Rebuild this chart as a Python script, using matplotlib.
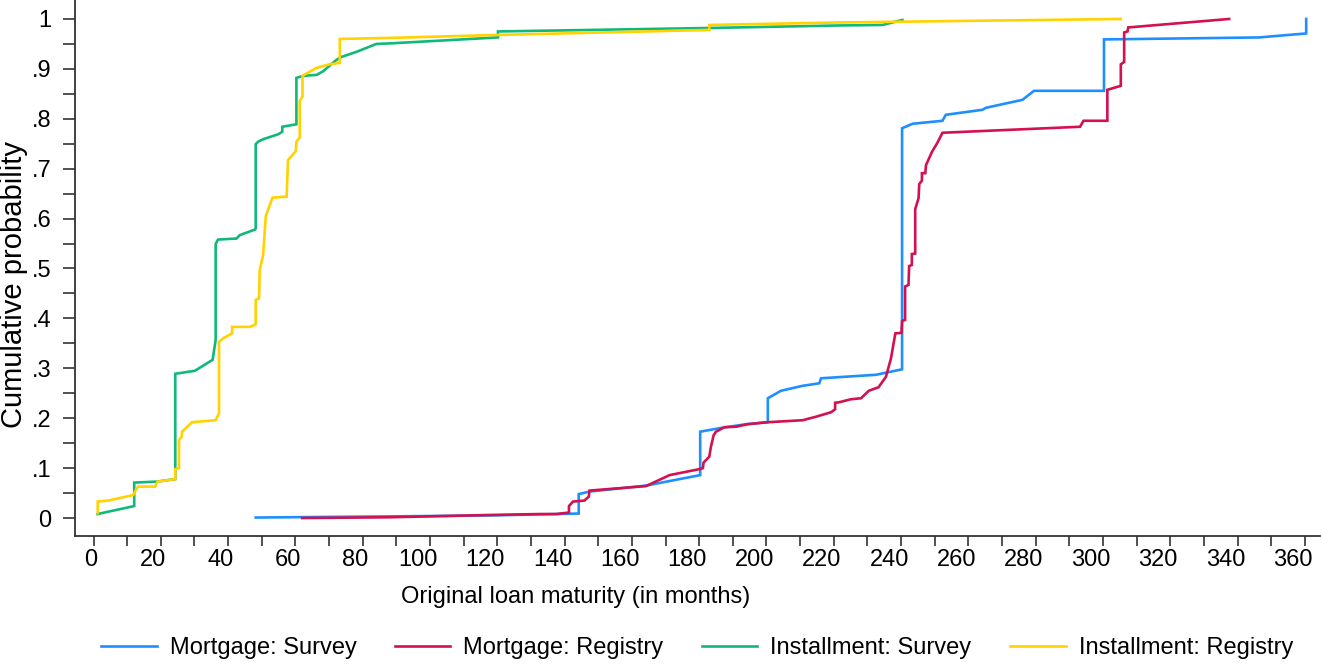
import matplotlib
matplotlib.use("Agg")
import matplotlib.pyplot as plt
from matplotlib.transforms import ScaledTranslation

# ---------------- data ----------------
mort_survey_x = [48.2, 116.7, 137.5, 144.2, 144.2, 147.4, 164.2, 180.3, 180.3, 186.0, 193.9, 200.4,
                 200.4, 204.3, 210.8, 215.7, 216.2, 232.5, 240.3, 240.3, 243.4, 252.3, 253.3,
                 264.2, 265.2, 276.1, 279.5, 300.3, 300.3, 346.4, 360.4, 360.4]
mort_survey_y = [0.001, 0.005, 0.008, 0.009, 0.048, 0.053, 0.065, 0.086, 0.173, 0.180, 0.188, 0.192,
                 0.240, 0.255, 0.265, 0.270, 0.280, 0.287, 0.298, 0.781, 0.790, 0.796, 0.808,
                 0.818, 0.822, 0.838, 0.856, 0.856, 0.959, 0.963, 0.971, 1.0]

mort_registry_x = [62.0, 88.0, 116.7, 132.6, 137.5, 141.3, 141.3, 142.5, 145.9, 147.2, 147.4, 164.2,
                   171.2, 180.1, 181.1, 181.3, 183.0, 183.5, 184.3, 185.0, 187.5, 191.0, 194.4,
                   200.4, 210.8, 214.7, 219.2, 220.4, 220.4, 221.6, 225.1, 228.1, 230.4, 233.3,
                   235.5, 237.0, 238.3, 240.1, 240.3, 241.2, 241.2, 242.2, 242.4, 243.2, 243.2,
                   244.2, 244.2, 245.2, 245.4, 246.2, 246.2, 247.2, 247.4, 249.2, 250.8, 252.3,
                   293.2, 294.2, 301.3, 301.3, 305.3, 305.3, 306.3, 306.3, 307.3, 307.5, 337.5]
mort_registry_y = [0.000, 0.0015, 0.006, 0.008, 0.008, 0.011, 0.024, 0.033, 0.035, 0.043, 0.055, 0.064,
                   0.086, 0.098, 0.100, 0.111, 0.123, 0.143, 0.166, 0.173, 0.182, 0.183, 0.188,
                   0.192, 0.196, 0.203, 0.212, 0.218, 0.231, 0.232, 0.238, 0.240, 0.255, 0.262,
                   0.283, 0.320, 0.370, 0.371, 0.395, 0.397, 0.464, 0.467, 0.505, 0.507, 0.529,
                   0.530, 0.619, 0.641, 0.669, 0.676, 0.691, 0.691, 0.707, 0.734, 0.752, 0.772,
                   0.784, 0.796, 0.796, 0.858, 0.866, 0.909, 0.914, 0.973, 0.975, 0.983, 1.0]

inst_survey_x = [1.2, 12.1, 12.1, 18.8, 24.3, 24.3, 30.1, 35.4, 36.3, 36.3, 37.0, 42.5, 43.5, 48.0,
                 48.2, 48.2, 48.9, 50.4, 54.9, 56.1, 56.1, 60.3, 60.3, 62.3, 66.3, 68.2, 72.2,
                 73.7, 78.1, 84.1, 88.0, 120.2, 120.2, 183.6, 221.7, 234.5, 240.4]
inst_survey_y = [0.008, 0.024, 0.071, 0.073, 0.078, 0.289, 0.295, 0.317, 0.357, 0.549, 0.558, 0.560,
                 0.567, 0.578, 0.580, 0.749, 0.754, 0.759, 0.769, 0.774, 0.784, 0.789, 0.882,
                 0.886, 0.888, 0.895, 0.918, 0.924, 0.934, 0.950, 0.951, 0.963, 0.975, 0.982,
                 0.987, 0.988, 0.998]

inst_registry_x = [1.25, 1.25, 4.4, 11.8, 12.8, 13.3, 18.3, 19.0, 24.3, 24.3, 25.4, 25.4, 26.2, 26.3,
                   29.3, 36.3, 37.3, 37.3, 38.5, 41.2, 41.2, 46.5, 48.2, 48.2, 49.2, 49.4, 50.4,
                   51.2, 53.2, 57.4, 57.8, 58.3, 60.1, 60.3, 61.3, 61.3, 62.1, 62.1, 66.3, 70.0,
                   73.2, 73.2, 88.0, 120.2, 183.0, 183.0, 221.7, 305.3]
inst_registry_y = [0.010, 0.033, 0.035, 0.046, 0.059, 0.063, 0.063, 0.073, 0.078, 0.098, 0.100, 0.156,
                   0.163, 0.173, 0.192, 0.196, 0.210, 0.353, 0.360, 0.370, 0.383, 0.383, 0.388,
                   0.437, 0.440, 0.497, 0.527, 0.605, 0.642, 0.644, 0.717, 0.721, 0.735, 0.754,
                   0.763, 0.836, 0.844, 0.886, 0.902, 0.909, 0.912, 0.960, 0.962, 0.968, 0.978,
                   0.988, 0.993, 1.0]

series_labels = ["Mortgage: Survey", "Mortgage: Registry", "Installment: Survey", "Installment: Registry"]
series_colors = ["#1f8fff", "#d4114f", "#10b97a", "#ffd200"]

x_ticks = list(range(0, 361, 20))
x_minor = list(range(10, 361, 20))
y_ticks = [0, 0.1, 0.2, 0.3, 0.4, 0.5, 0.6, 0.7, 0.8, 0.9, 1.0]
y_ticklabels = ["0", ".1", ".2", ".3", ".4", ".5", ".6", ".7", ".8", ".9", "1"]
y_minor = [0.05, 0.15, 0.25, 0.35, 0.45, 0.55, 0.65, 0.75, 0.85, 0.95]

# ---------------- figure ----------------
plt.rcParams["font.family"] = ["Liberation Sans", "DejaVu Sans"]
FS = 17

W, H = 1322, 666
fig = plt.figure(figsize=(W / 100, H / 100), dpi=100)
ax_l, ax_r, ax_b, ax_t = 75, 1320, 536, 0
ax = fig.add_axes([ax_l / W, (H - ax_b) / H, (ax_r - ax_l) / W, (ax_b - ax_t) / H])

series = [(mort_survey_x, mort_survey_y), (mort_registry_x, mort_registry_y),
          (inst_survey_x, inst_survey_y), (inst_registry_x, inst_registry_y)]
for (xs, ys), lab, col in zip(series, series_labels, series_colors):
    ax.plot(xs, ys, color=col, lw=1.9, label=lab, solid_joinstyle="miter")

ax.set_xlim(-5.5, 364.5)
ax.set_ylim(-0.036, 1.038)
ax.spines["top"].set_visible(False)
ax.spines["right"].set_visible(False)
for s in ("left", "bottom"):
    ax.spines[s].set_linewidth(1.3)
    ax.spines[s].set_color("#333333")

ax.set_xticks(x_ticks)
ax.set_xticklabels([str(v) for v in x_ticks])
ax.set_xticks(x_minor, minor=True)
ax.set_yticks(y_ticks)
ax.set_yticklabels(y_ticklabels)
ax.set_yticks(y_minor, minor=True)
ax.tick_params(axis="x", which="both", length=7.2, width=1.2, color="#333333", direction="out")
ax.tick_params(axis="y", which="both", length=8.6, width=1.2, color="#333333", direction="out")
ax.tick_params(axis="x", which="major", labelsize=FS, pad=2.0)
ax.tick_params(axis="y", which="major", labelsize=FS, pad=8.5)

# reference tick labels sit slightly left of their ticks (wider labels shift more)
for lab in ax.get_xticklabels():
    n = len(lab.get_text())
    dx = -(3 + 4.5 * (n - 1)) / 100.0
    lab.set_transform(lab.get_transform() + ScaledTranslation(dx, 0, fig.dpi_scale_trans))

ax.set_xlabel("Original loan maturity (in months)", fontsize=FS)
ax.xaxis.set_label_coords((576 - ax_l) / (ax_r - ax_l), (ax_b - 597) / (ax_b - ax_t))
ax.xaxis.label.set_va("center")
ax.set_ylabel("Cumulative probability", fontsize=21)
ax.yaxis.set_label_coords((14 - ax_l) / (ax_r - ax_l), (ax_b - 285) / (ax_b - ax_t))
ax.yaxis.label.set_va("center")

fig.legend(loc="center", bbox_to_anchor=(697 / W, (H - 648) / H), ncol=4, frameon=False,
           fontsize=FS, handlelength=2.35, handletextpad=0.55, columnspacing=1.63,
           borderpad=0, borderaxespad=0)

fig.savefig("out.png", dpi=100, facecolor="white")
